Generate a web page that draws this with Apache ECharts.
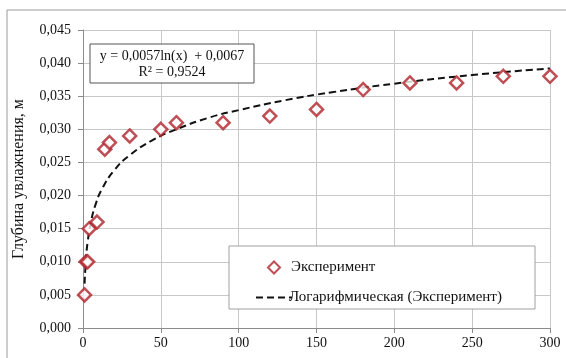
<!DOCTYPE html>
<html>
<head>
<meta charset="utf-8">
<script src="https://cdn.jsdelivr.net/npm/echarts@6/dist/echarts.min.js"></script>
<style>
  html, body { margin: 0; padding: 0; background: #fff; }
  #main { width: 566px; height: 358px; }
</style>
</head>
<body>
<div id="main"></div>
<script>
// experiment points: time (x) and depth (y)
var expX = [1, 2, 3, 4, 9, 14, 17, 30, 50, 60, 90, 120, 150, 180, 210, 240, 270, 300];
var expY = [0.005, 0.010, 0.010, 0.015, 0.016, 0.027, 0.028, 0.029, 0.030, 0.031, 0.031, 0.032, 0.033, 0.036, 0.037, 0.037, 0.038, 0.038];

// points
var trendX = [1, 2, 3, 5, 8, 12, 20, 30, 45, 60, 80, 100, 130, 160, 200, 250, 300];
var trendY = [0.0067, 0.0107, 0.0130, 0.0159, 0.0186, 0.0209, 0.0238, 0.0261, 0.0284, 0.0300, 0.0317, 0.0329, 0.0344, 0.0356, 0.0369, 0.0382, 0.0392];

var xTicks = [0, 50, 100, 150, 200, 250, 300];
var yTicks = ['0,000', '0,005', '0,010', '0,015', '0,020', '0,025', '0,030', '0,035', '0,040', '0,045'];

var seriesNames = ['Эксперимент', 'Логарифмическая (Эксперимент)'];
var yName = 'Глубина увлажнения, м';
var eqLines = ['y = 0,0057ln(x)  + 0,0067', 'R² = 0,9524'];

var pairs = function (xs, ys) {
    var res = [];
    for (var i = 0; i < xs.length; i++) {
        res.push([xs[i], ys[i]]);
    }
    return res;
};

var font = '"Liberation Serif", "Times New Roman", serif';

option = {
    backgroundColor: '#fff',
    animation: false,
    textStyle: { fontFamily: font, color: '#000' },
    grid: { left: 83, right: 16, top: 30, bottom: 30, containLabel: false, outerBoundsMode: 'none' },
    xAxis: {
        type: 'value',
        min: xTicks[0],
        max: xTicks[xTicks.length - 1],
        interval: 50,
        axisLine: { lineStyle: { color: '#8c8c8c', width: 1 } },
        axisTick: { show: true, length: 5, lineStyle: { color: '#8c8c8c' } },
        axisLabel: { color: '#111', fontFamily: font, fontSize: 14, margin: 8 },
        splitLine: { show: true, lineStyle: { color: '#c8c8c8', width: 1 } }
    },
    yAxis: {
        type: 'value',
        min: 0,
        max: 0.045,
        interval: 0.005,
        name: yName,
        nameLocation: 'middle',
        nameGap: 56,
        nameTextStyle: { fontFamily: font, fontSize: 16, color: '#111' },
        axisLine: { show: true, lineStyle: { color: '#8c8c8c', width: 1 } },
        axisTick: { show: true, length: 5, lineStyle: { color: '#8c8c8c' } },
        axisLabel: {
            color: '#111', fontFamily: font, fontSize: 14, margin: 12,
            formatter: function (v) {
                return yTicks[Math.round(v / 0.005)];
            }
        },
        splitLine: { show: true, lineStyle: { color: '#c8c8c8', width: 1 } }
    },
    legend: [
        {
            data: [seriesNames[0]],
            left: 262, top: 255,
            itemWidth: 12, itemHeight: 12, itemGap: 0,
            textStyle: { fontFamily: font, fontSize: 15, color: '#111', padding: [0, 0, 0, 6] },
            z: 10
        },
        {
            data: [seriesNames[1]],
            left: 250, top: 285,
            itemWidth: 36, itemHeight: 12,
            itemStyle: { color: 'rgba(0,0,0,0)', borderWidth: 0 },
            textStyle: { fontFamily: font, fontSize: 15, color: '#111', padding: [0, 0, 0, -8] },
            z: 10
        }
    ],
    graphic: [
        {
            type: 'rect', z: 0, silent: true,
            shape: { x: 7, y: 10, width: 600, height: 400 },
            style: { fill: 'none', stroke: '#9a9a9a', lineWidth: 1 }
        },
        {
            type: 'rect', z: 4, silent: true,
            shape: { x: 229, y: 246, width: 306, height: 63 },
            style: { fill: '#fff', stroke: '#a0a0a0', lineWidth: 1 }
        },
        {
            type: 'rect', z: 4, silent: true,
            shape: { x: 90, y: 44, width: 164, height: 39 },
            style: { fill: '#fff', stroke: '#555', lineWidth: 1 }
        },
        {
            type: 'text', z: 5, silent: true,
            x: 172, y: 56,
            style: { text: eqLines[0], font: '14px ' + font, fill: '#111', align: 'center', verticalAlign: 'middle' }
        },
        {
            type: 'text', z: 5, silent: true,
            x: 172, y: 72,
            style: { text: eqLines[1], font: '14px ' + font, fill: '#111', align: 'center', verticalAlign: 'middle' }
        }
    ],
    series: [
        {
            name: seriesNames[1],
            type: 'line',
            data: pairs(trendX, trendY),
            smooth: true,
            showSymbol: false,
            symbol: 'none',
            lineStyle: { color: '#111', width: 2, type: [7, 4] },
            itemStyle: { color: '#111' },
            z: 2
        },
        {
            name: seriesNames[0],
            type: 'scatter',
            data: pairs(expX, expY),
            symbol: 'diamond',
            symbolSize: 13,
            itemStyle: { color: '#fff', borderColor: '#b0222a', borderWidth: 2.5 },
            z: 3
        }
    ]
};

var myChart = echarts.init(document.getElementById('main'));
myChart.setOption(option);
</script>
</body>
</html>
